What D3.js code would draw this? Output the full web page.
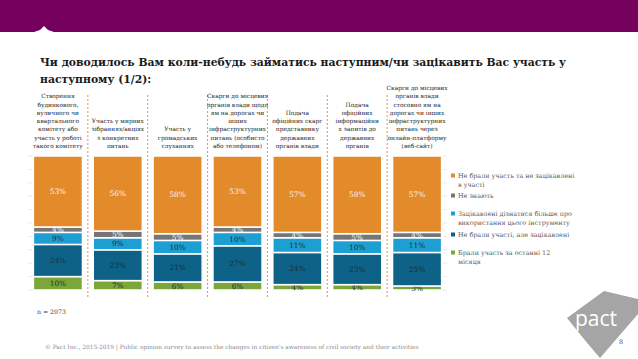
<!DOCTYPE html>
<html><head><meta charset="utf-8">
<script src="https://cdn.jsdelivr.net/npm/d3@7"></script>
<style>html,body{margin:0;padding:0;background:#fff;}svg{display:block;}</style>
</head><body>
<script>
// ---------- DATA ----------
const categories = ["c1","c2","c3","c4","c5","c6","c7"];
const headers = [
  ["Створення","будинкового,","вуличного чи","квартального","комітету або","участь у роботі","такого комітету"],
  ["Участь у мирних","зібраннях/акціях","з конкретних","питань"],
  ["Участь у","громадських","слуханнях"],
  ["Скарги до місцевих","органів влади щодо","ям на дорогах чи","інших","інфраструктурних","питань  (особисто","або телефоном)"],
  ["Подача","офіційних скарг","представнику","державних","органів влади"],
  ["Подача","офіційних","інформаційни","х запитів до","державних","органів"],
  ["Скарги до місцевих","органів влади","стосовно ям на","дорогах чи інших","інфраструктурних","питань через","онлайн-платформу","(веб-сайт)"]
];
const seriesNames = [
  "Брали участь за останні 12 місяця",
  "Не брали участі, але зацікавлені",
  "Зацікавлені дізнатися більше про використання цього інструменту",
  "Не знають",
  "Не брали участь та не зацікавлені в участі"
];
const tookPart      = [10, 7, 6, 6, 4, 4, 3];
const interested    = [24, 23, 21, 27, 24, 23, 25];
const learnMore     = [9, 9, 10, 10, 11, 10, 11];
const dontKnow      = [4, 5, 5, 4, 4, 5, 4];
const notInterested = [53, 56, 58, 53, 57, 58, 57];
const seriesColors = ["#7BA639","#0E6287","#1E9FD3","#767676","#E38A2B"];
const labelColors  = ["#1d2b3a","#1d2b3a","#1d2b3a","#ffffff","#fdf3e6"];
const legendOrder = [4,3,2,1,0];
const legendLines = [
  ["Не брали участь та не зацікавлені","в участі"],
  ["Не знають"],
  ["Зацікавлені дізнатися більше про","використання цього інструменту"],
  ["Не брали участі, але зацікавлені"],
  ["Брали участь за останні 12","місяця"]
];
const sampleNote = "n = 2073";
const footer = "© Pact Inc., 2015-2019 | Public opinion survey to assess the changes in citizen's awareness of civil society and their activities";
const titleLines = ["Чи доводилось Вам коли-небудь займатись наступним/чи зацікавить Вас участь у","наступному (1/2):"];

// ---------- CHART ----------
const W = 638, H = 359;
const svg = d3.select("body").append("svg").attr("width", W).attr("height", H);
const serif = "'DejaVu Serif', 'Liberation Serif', serif";

// header band
svg.append("rect").attr("x",0).attr("y",0).attr("width",W).attr("height",32).attr("fill","#75005E");
svg.append("path").attr("d","M34,32 L40,30 L44,26 L48,30 L54,32 Z").attr("fill","#fff");

// title
svg.append("g").selectAll("text").data(titleLines).join("text")
  .attr("x",40).attr("y",(d,i)=>66+i*17)
  .attr("font-family",serif).attr("font-weight","bold").attr("font-size",10.8)
  .attr("fill","#1a1a1a").text(d=>d);

const x = d3.scaleBand().domain(categories).range([28,447]).paddingInner(0.18).paddingOuter(0.09);
const y = d3.scaleLinear().domain([0,100]).range([290,156]);

// faint ticks
const ticks = y.ticks(10);
svg.append("g").selectAll("line").data(ticks).join("line")
  .attr("x1",28).attr("x2",32).attr("y1",d=>y(d)).attr("y2",d=>y(d))
  .attr("stroke","#d9d9d9").attr("stroke-width",0.6);
svg.append("g").selectAll("line").data(ticks).join("line")
  .attr("x1",443).attr("x2",447).attr("y1",d=>y(d)).attr("y2",d=>y(d))
  .attr("stroke","#d9d9d9").attr("stroke-width",0.6);

// dividers
const step = x.step();
svg.append("g").selectAll("line").data(categories.slice(0,-1)).join("line")
  .attr("x1",d=>x(d)+x.bandwidth()+(step-x.bandwidth())/2)
  .attr("x2",d=>x(d)+x.bandwidth()+(step-x.bandwidth())/2)
  .attr("y1",95).attr("y2",298)
  .attr("stroke","#D9893A").attr("stroke-width",0.9).attr("stroke-dasharray","2,2");

// stacked
const rows = categories.map((c,i)=>({cat:c, s0:tookPart[i], s1:interested[i], s2:learnMore[i], s3:dontKnow[i], s4:notInterested[i]}));
const stack = d3.stack().keys(["s0","s1","s2","s3","s4"])(rows);
const gs = svg.append("g").selectAll("g").data(stack).join("g");
gs.selectAll("rect").data((d)=>d.map(v=>({v,key:d.index}))).join("rect")
  .attr("x",d=>x(d.v.data.cat)).attr("width",x.bandwidth())
  .attr("y",d=>y(d.v[1])).attr("height",d=>y(d.v[0])-y(d.v[1]))
  .attr("fill",d=>seriesColors[d.key]).attr("stroke","#fff").attr("stroke-width",1.5);
gs.selectAll("text").data((d)=>d.map(v=>({v,key:d.index}))).join("text")
  .attr("x",d=>x(d.v.data.cat)+x.bandwidth()/2)
  .attr("y",d=>(y(d.v[0])+y(d.v[1]))/2)
  .attr("dy","0.35em").attr("text-anchor","middle")
  .attr("font-family",serif).attr("font-size",7.4)
  .attr("fill",d=>labelColors[d.key])
  .text(d=>(d.v[1]-d.v[0])+"%");

// headers
const hg = svg.append("g").selectAll("text").data(categories).join("text")
  .attr("text-anchor","middle").attr("font-family",serif).attr("font-size",5.9).attr("fill","#262626");
hg.each(function(c,i){
  const lines = headers[i];
  const lh = 8.3, bottom = 148;
  d3.select(this).selectAll("tspan").data(lines).join("tspan")
    .attr("x",x(c)+x.bandwidth()/2)
    .attr("y",(d,j)=>bottom-(lines.length-1-j)*lh)
    .text(d=>d);
});

// legend
const legendY = [176,196,214,235,253];
const lg = svg.append("g").selectAll("g").data(legendOrder).join("g");
lg.append("rect").attr("x",451).attr("y",(d,i)=>legendY[i]-2.5).attr("width",4).attr("height",4)
  .attr("fill",d=>seriesColors[d]);
lg.append("text").attr("font-family",serif).attr("font-size",6.4).attr("fill","#595959")
  .each(function(d,i){
    d3.select(this).selectAll("tspan").data(legendLines[i]).join("tspan")
      .attr("x",458).attr("y",(t,j)=>legendY[i]+2.3+j*8.6).text(t=>t);
  });

// notes
svg.append("text").attr("x",37).attr("y",314).attr("font-family",serif).attr("font-size",6.2).attr("fill","#404040").text(sampleNote);
svg.append("text").attr("x",45).attr("y",349).attr("font-family",serif).attr("font-size",5.85).attr("fill","#8c8c8c").text(footer);

// logo
svg.append("path").attr("d","M567,318 L604,291 L638,299 L638,314 L600,358 L588,344 Z").attr("fill","#A5A5A5");
svg.append("text").attr("x",575).attr("y",326).attr("font-family","'Open Sans', sans-serif").attr("font-size",21)
  .attr("fill","#fff").text("pact");
svg.append("text").attr("x",619).attr("y",344).attr("font-family",serif).attr("font-size",6.5).attr("fill","#595959").text("8");
</script>
</body></html>
